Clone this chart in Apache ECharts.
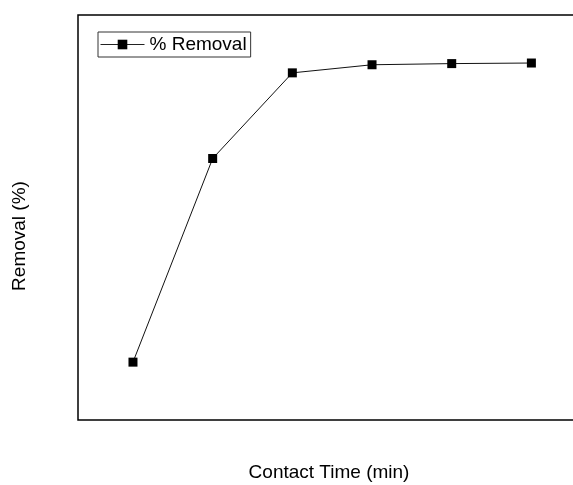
<!DOCTYPE html>
<html>
<head>
<meta charset="utf-8">
<script src="https://cdn.jsdelivr.net/npm/echarts@6/dist/echarts.min.js"></script>
<style>
  html, body { margin: 0; padding: 0; background: #fff; }
  #chart { width: 573px; height: 485px; }
</style>
</head>
<body>
<div id="chart"></div>
<script>
// Contact time (min) and the matching removal percentage
const contactTime = [10, 20, 30, 40, 50, 60];
const removal = [40, 75.2, 90, 91.4, 91.6, 91.7];
const seriesName = '% Removal';
const xTitle = 'Contact Time (min)';
const yTitle = 'Removal (%)';

const chart = echarts.init(document.getElementById('chart'), null, { renderer: 'canvas' });

const font = 'Arial, "Liberation Sans", sans-serif';

chart.setOption({
  animation: false,
  backgroundColor: '#fff',
  grid: {
    left: 78, top: 15, width: 502, bottom: 65,
    outerBoundsMode: 'none',
    show: true, borderColor: '#000', borderWidth: 1.5, backgroundColor: 'transparent'
  },
  legend: {
    left: 98, top: 32,
    padding: [3, 4, 3, 2],
    borderColor: '#333', borderWidth: 1,
    itemWidth: 44, itemHeight: 12, itemGap: 4,
    lineStyle: { width: 1, color: '#222' },
    textStyle: { fontFamily: font, fontSize: 19, color: '#000' },
    data: [seriesName]
  },
  xAxis: {
    type: 'value',
    min: 3.1, max: 66.1,
    name: xTitle, nameLocation: 'middle', nameGap: 43,
    nameTextStyle: { fontFamily: font, fontSize: 19, color: '#000' },
    axisLine: { show: false }, axisTick: { show: false },
    axisLabel: { show: false }, splitLine: { show: false }
  },
  yAxis: {
    type: 'value',
    min: 30, max: 100,
    axisLine: { show: false }, axisTick: { show: false },
    axisLabel: { show: false }, splitLine: { show: false }
  },
  // vertical title of the removal axis, set a little below the plot's middle
  graphic: [{
    type: 'text',
    x: 20, y: 236,
    rotation: Math.PI / 2,
    style: {
      text: yTitle,
      fontFamily: font, fontSize: 19, fill: '#000',
      textAlign: 'center', textVerticalAlign: 'middle'
    }
  }],
  series: [{
    name: seriesName,
    type: 'line',
    data: contactTime.map((t, i) => [t, removal[i]]),
    symbol: 'rect', symbolSize: 9,
    itemStyle: { color: '#000' },
    lineStyle: { color: '#111', width: 1 }
  }]
});
</script>
</body>
</html>
